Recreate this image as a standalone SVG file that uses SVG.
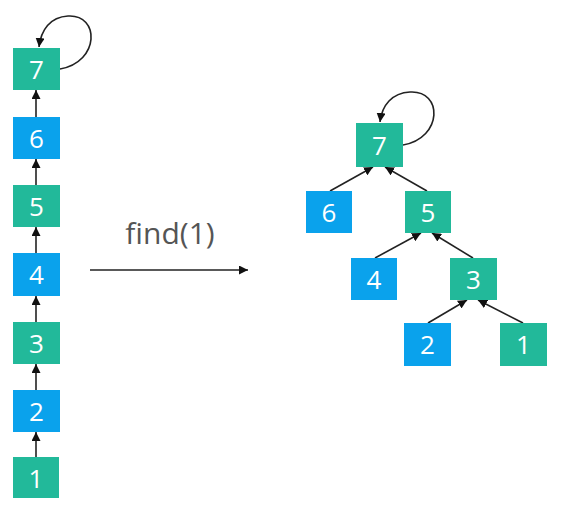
<svg xmlns="http://www.w3.org/2000/svg" width="569" height="515" viewBox="0 0 569 515">
<style>
.t{fill:#22B99A}.b{fill:#0AA2EC}
.lbl{font-family:"Open Sans","Noto Sans",sans-serif;font-size:26px;fill:#fff;text-anchor:middle}
.e{stroke:#222;stroke-width:1.6;fill:none;marker-end:url(#ah)}
</style>
<defs>
<marker id="ah" viewBox="0 0 10 10" refX="10" refY="5" markerWidth="9" markerHeight="9" markerUnits="userSpaceOnUse" orient="auto">
<path d="M0,0 L10,5 L0,10 z" fill="#111"/>
</marker>
</defs>
<rect width="569" height="515" fill="#fff"/>
<g id="connectors">
<path class="e" d="M60,69 C100,62 100,14 68,16 C50,17 41,30 39,47"/>
<line class="e" x1="36" y1="117" x2="36" y2="90"/>
<line class="e" x1="36" y1="185" x2="36" y2="159"/>
<line class="e" x1="36" y1="253" x2="36" y2="227"/>
<line class="e" x1="36" y1="322" x2="36" y2="296"/>
<line class="e" x1="36" y1="390" x2="36" y2="364"/>
<line class="e" x1="36" y1="457" x2="36" y2="432"/>
<line class="e" x1="90" y1="270" x2="248" y2="270"/>
<path class="e" d="M403,145 C443,138 443,90 410,92 C392,93 382,105 380,122"/>
<line class="e" x1="330" y1="191" x2="373" y2="167"/>
<line class="e" x1="427" y1="191" x2="385" y2="167"/>
<line class="e" x1="375" y1="258" x2="421" y2="233"/>
<line class="e" x1="473" y1="258" x2="432" y2="233"/>
<line class="e" x1="428" y1="323" x2="467" y2="300"/>
<line class="e" x1="523" y1="323" x2="478" y2="300"/>
</g>
<g id="l7"><rect class="t" x="13" y="48" width="47" height="42"/><text class="lbl" x="36.5" y="79">7</text></g>
<g id="l6"><rect class="b" x="13" y="117" width="47" height="42"/><text class="lbl" x="36.5" y="148">6</text></g>
<g id="l5"><rect class="t" x="13" y="185" width="47" height="42"/><text class="lbl" x="36.5" y="216">5</text></g>
<g id="l4"><rect class="b" x="13" y="253" width="47" height="43"/><text class="lbl" x="36.5" y="284">4</text></g>
<g id="l3"><rect class="t" x="13" y="322" width="47" height="42"/><text class="lbl" x="36.5" y="353">3</text></g>
<g id="l2"><rect class="b" x="13" y="390" width="47" height="42"/><text class="lbl" x="36.5" y="421">2</text></g>
<g id="l1"><rect class="t" x="13" y="457" width="46" height="41"/><text class="lbl" x="36" y="488">1</text></g>
<g id="label"><text x="170" y="244" font-family="'Open Sans','Noto Sans',sans-serif" font-size="30" fill="#555" text-anchor="middle">find(1)</text></g>
<g id="r7"><rect class="t" x="356" y="123" width="47" height="44"/><text class="lbl" x="379.5" y="155">7</text></g>
<g id="r6"><rect class="b" x="306" y="191" width="46" height="42"/><text class="lbl" x="329" y="222">6</text></g>
<g id="r5"><rect class="t" x="405" y="191" width="46" height="42"/><text class="lbl" x="428" y="222">5</text></g>
<g id="r4"><rect class="b" x="351" y="258" width="46" height="42"/><text class="lbl" x="374" y="289">4</text></g>
<g id="r3"><rect class="t" x="450" y="258" width="47" height="42"/><text class="lbl" x="473.5" y="289">3</text></g>
<g id="r2"><rect class="b" x="404" y="323" width="47" height="43"/><text class="lbl" x="427.5" y="354">2</text></g>
<g id="r1"><rect class="t" x="500" y="323" width="47" height="43"/><text class="lbl" x="523.5" y="354">1</text></g>
</svg>
